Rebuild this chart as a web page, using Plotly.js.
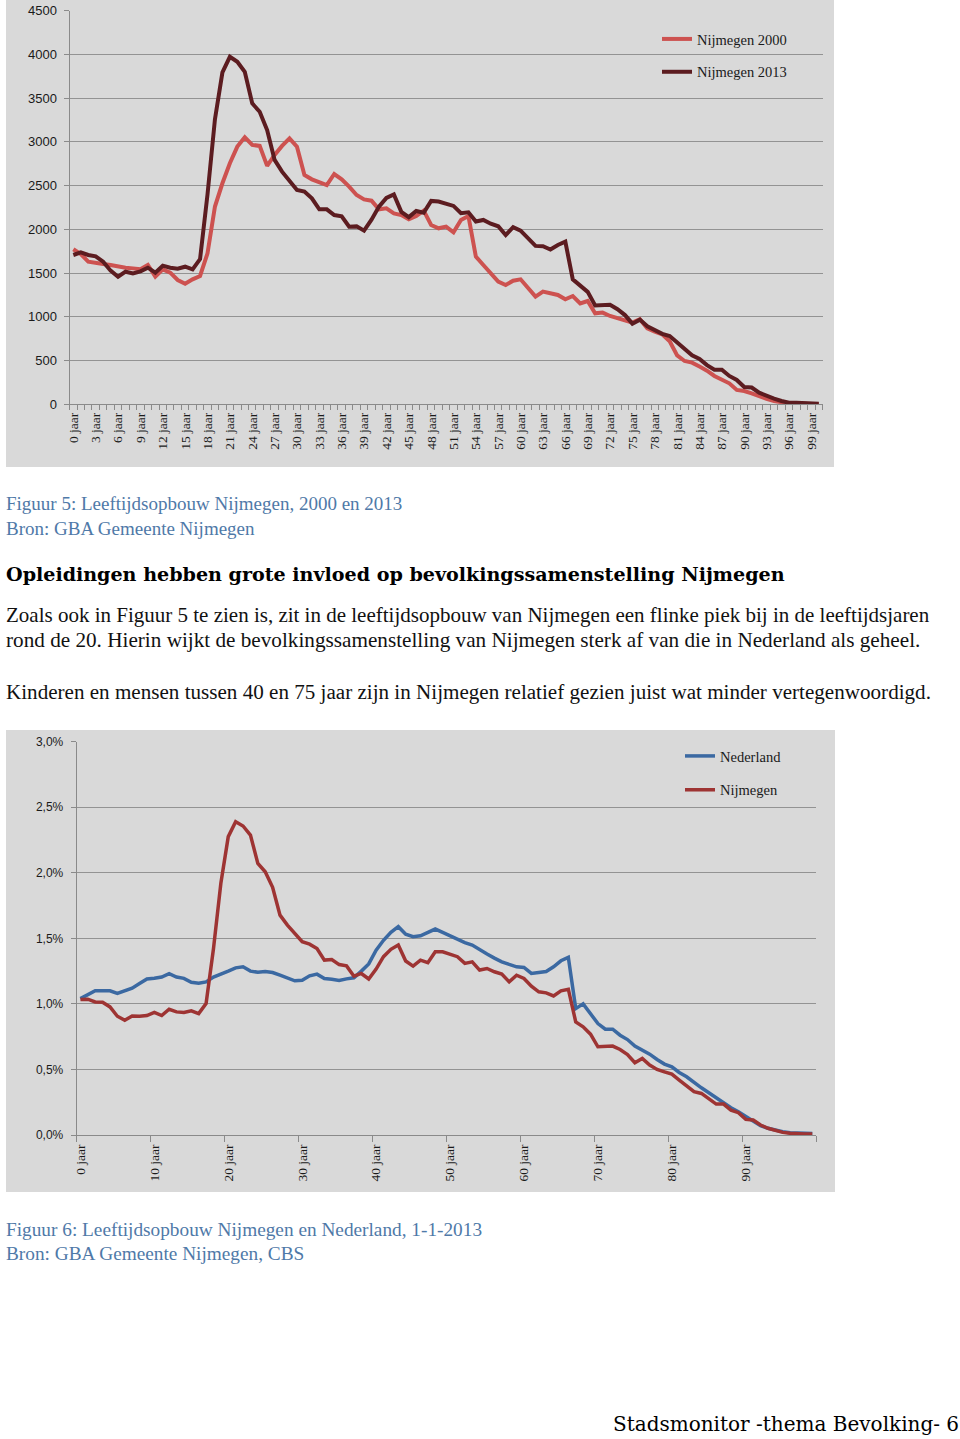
<!DOCTYPE html>
<html>
<head>
<meta charset="utf-8">
<script src="https://cdn.plot.ly/plotly-3.0.1.min.js"></script>
<style>
html,body{margin:0;padding:0;background:#fff;}
#chart{width:960px;height:1439px;}
</style>
</head>
<body>
<div id="chart"></div>
<script>
// ---------- Figuur 5 data ----------
const ages5 = [0,1,2,3,4,5,6,7,8,9,10,11,12,13,14,15,16,17,18,19,20,21,22,23,24,25,26,27,28,29,30,31,32,33,34,35,36,37,38,39,40,41,42,43,44,45,46,47,48,49,50,51,52,53,54,55,56,57,58,59,60,61,62,63,64,65,66,67,68,69,70,71,72,73,74,75,76,77,78,79,80,81,82,83,84,85,86,87,88,89,90,91,92,93,94,95,96,97,98,99,100];
const nijmegen2000 = [1772,1718,1631,1612,1604,1593,1573,1562,1554,1543,1593,1459,1543,1505,1421,1378,1429,1467,1726,2261,2527,2756,2946,3053,2966,2954,2726,2851,2954,3041,2945,2621,2572,2545,2507,2633,2572,2488,2393,2343,2328,2229,2240,2183,2164,2115,2153,2214,2050,2012,2031,1966,2107,2153,1688,1593,1497,1402,1364,1413,1429,1326,1231,1288,1269,1250,1200,1238,1154,1181,1040,1048,1010,983,956,933,972,869,831,800,720,560,495,476,431,385,324,278,240,164,152,126,88,61,38,19,11,8,4,4,0];
const nijmegen2013 = [1707,1737,1707,1692,1631,1528,1459,1516,1497,1520,1562,1505,1585,1562,1551,1573,1543,1660,2400,3260,3795,3973,3916,3802,3440,3345,3136,2794,2660,2546,2451,2432,2355,2229,2229,2164,2150,2030,2034,1985,2110,2260,2360,2400,2200,2140,2210,2190,2325,2318,2290,2268,2185,2195,2090,2108,2065,2035,1935,2025,1985,1890,1811,1808,1770,1822,1860,1428,1360,1285,1130,1130,1138,1087,1020,922,968,892,842,805,780,711,635,560,518,448,396,396,324,278,198,192,133,95,65,38,19,19,11,10,6];
const tickPos5 = [0,3,6,9,12,15,18,21,24,27,30,33,36,39,42,45,48,51,54,57,60,63,66,69,72,75,78,81,84,87,90,93,96,99];
const tickText5 = ['0 jaar','3 jaar','6 jaar','9 jaar','12 jaar','15 jaar','18 jaar','21 jaar','24 jaar','27 jaar','30 jaar','33 jaar','36 jaar','39 jaar','42 jaar','45 jaar','48 jaar','51 jaar','54 jaar','57 jaar','60 jaar','63 jaar','66 jaar','69 jaar','72 jaar','75 jaar','78 jaar','81 jaar','84 jaar','87 jaar','90 jaar','93 jaar','96 jaar','99 jaar'];
const yTicks5 = [0,500,1000,1500,2000,2500,3000,3500,4000,4500];

// ---------- Figuur 6 data (percent) ----------
const ages6 = [0,1,2,3,4,5,6,7,8,9,10,11,12,13,14,15,16,17,18,19,20,21,22,23,24,25,26,27,28,29,30,31,32,33,34,35,36,37,38,39,40,41,42,43,44,45,46,47,48,49,50,51,52,53,54,55,56,57,58,59,60,61,62,63,64,65,66,67,68,69,70,71,72,73,74,75,76,77,78,79,80,81,82,83,84,85,86,87,88,89,90,91,92,93,94,95,96,97,98,99];
const nederland = [1.04,1.07,1.10,1.10,1.10,1.08,1.10,1.12,1.155,1.19,1.195,1.205,1.23,1.205,1.195,1.165,1.158,1.168,1.205,1.225,1.25,1.275,1.283,1.25,1.242,1.247,1.239,1.219,1.199,1.176,1.181,1.214,1.227,1.193,1.188,1.178,1.191,1.199,1.25,1.305,1.41,1.485,1.546,1.589,1.531,1.513,1.52,1.546,1.571,1.546,1.52,1.495,1.467,1.449,1.411,1.38,1.349,1.321,1.301,1.283,1.278,1.232,1.24,1.247,1.283,1.329,1.355,0.964,1.0,0.926,0.85,0.807,0.807,0.761,0.728,0.678,0.647,0.617,0.576,0.541,0.52,0.477,0.444,0.398,0.36,0.322,0.284,0.246,0.208,0.178,0.14,0.107,0.071,0.051,0.036,0.025,0.018,0.015,0.012,0.012];
const nijmegen = [1.033,1.036,1.015,1.013,0.977,0.906,0.875,0.908,0.906,0.911,0.936,0.911,0.959,0.939,0.934,0.947,0.926,1.003,1.42,1.92,2.276,2.39,2.357,2.288,2.072,2.008,1.889,1.677,1.601,1.537,1.474,1.456,1.423,1.334,1.339,1.30,1.29,1.211,1.232,1.19,1.266,1.36,1.416,1.449,1.327,1.288,1.334,1.314,1.398,1.398,1.38,1.36,1.309,1.321,1.258,1.27,1.245,1.227,1.168,1.219,1.194,1.135,1.092,1.084,1.061,1.10,1.112,0.863,0.825,0.769,0.673,0.673,0.678,0.652,0.614,0.551,0.584,0.533,0.50,0.482,0.464,0.419,0.373,0.33,0.317,0.279,0.236,0.236,0.19,0.17,0.119,0.114,0.076,0.051,0.033,0.02,0.013,0.008,0.008,0.008];
const tickPos6 = [0,10,20,30,40,50,60,70,80,90];
const tickText6 = ['0 jaar','10 jaar','20 jaar','30 jaar','40 jaar','50 jaar','60 jaar','70 jaar','80 jaar','90 jaar'];
const yTicks6 = [0,0.5,1,1.5,2,2.5,3];
const yTickText6 = ['0,0%','0,5%','1,0%','1,5%','2,0%','2,5%','3,0%'];

// ---------- page geometry helpers ----------
const W = 960, H = 1439;
const px = v => v / W;
const py = v => 1 - v / H;

// category boundary tick marks
const bounds5 = ages5.map(a => a - 0.5).concat([ages5[ages5.length - 1] + 0.5]);
const bounds6 = [];
for (let i = 0; i <= ages6.length; i += 10) bounds6.push(i - 0.5);

const axisGray = '#8a8a8a';
const serif = 'Liberation Serif, Times New Roman, serif';
const sans = 'Liberation Sans, Arial, sans-serif';

const traces = [
  {x: ages5, y: nijmegen2000, name: 'Nijmegen 2000', type: 'scatter', mode: 'lines',
   line: {color: '#cd5250', width: 4}, xaxis: 'x', yaxis: 'y', legend: 'legend', legendgroup: 'a', hoverinfo: 'skip'},
  {x: ages5, y: nijmegen2013, name: 'Nijmegen 2013', type: 'scatter', mode: 'lines',
   line: {color: '#5c1c20', width: 4}, xaxis: 'x', yaxis: 'y', legend: 'legend', legendgroup: 'b', hoverinfo: 'skip'},
  {x: ages6, y: nederland, name: 'Nederland', type: 'scatter', mode: 'lines',
   line: {color: '#3b69a2', width: 3.5}, xaxis: 'x2', yaxis: 'y2', legend: 'legend2', legendgroup: 'c', hoverinfo: 'skip'},
  {x: ages6, y: nijmegen, name: 'Nijmegen', type: 'scatter', mode: 'lines',
   line: {color: '#9e3433', width: 3.5}, xaxis: 'x2', yaxis: 'y2', legend: 'legend2', legendgroup: 'd', hoverinfo: 'skip'}
];

const capBlue = '#4f79a8';
function txt(text, x, y, size, color, family, weight) {
  return {text: text, xref: 'paper', yref: 'paper', x: px(x), y: py(y), xanchor: 'left', yanchor: 'middle',
          showarrow: false, font: {size: size, color: color, family: family, weight: weight || 'normal'}};
}

const layout = {
  width: W, height: H,
  margin: {l: 0, r: 0, t: 0, b: 0},
  paper_bgcolor: '#ffffff',
  plot_bgcolor: 'rgba(0,0,0,0)',
  showlegend: true,
  shapes: [
    {type: 'rect', xref: 'paper', yref: 'paper', x0: px(6), x1: px(834), y0: py(467), y1: py(0),
     fillcolor: '#d9d9d9', line: {width: 0}, layer: 'below'},
    {type: 'rect', xref: 'paper', yref: 'paper', x0: px(6), x1: px(835), y0: py(1192), y1: py(730),
     fillcolor: '#d9d9d9', line: {width: 0}, layer: 'below'}
  ],
  xaxis: {
    domain: [px(69.6), px(822.5)], range: [-0.5, 100.5], anchor: 'y',
    tickmode: 'array', tickvals: tickPos5, ticktext: tickText5, tickangle: -90,
    ticks: '', showline: true, linecolor: axisGray, linewidth: 1, showgrid: false, zeroline: false,
    tickfont: {family: serif, size: 13.5, color: '#1a1a1a'}, ticklabelstandoff: 2,
    minor: {tickmode: 'array', tickvals: bounds5, ticks: 'outside', ticklen: 5, tickcolor: axisGray, tickwidth: 1, showgrid: false},
    fixedrange: true
  },
  yaxis: {
    domain: [py(404.3), py(10.7)], range: [0, 4500], anchor: 'x',
    tickmode: 'array', tickvals: yTicks5,
    showgrid: true, gridcolor: '#939393', gridwidth: 1, showline: true, linecolor: axisGray, linewidth: 1,
    ticks: 'outside', ticklen: 5, tickcolor: axisGray, zeroline: false,
    tickfont: {family: sans, size: 13, color: '#1a1a1a'}, ticklabelstandoff: 4,
    fixedrange: true
  },
  xaxis2: {
    domain: [px(76.7), px(816)], range: [-0.5, 99.5], anchor: 'y2',
    tickmode: 'array', tickvals: tickPos6, ticktext: tickText6, tickangle: -90,
    ticks: '', showline: true, linecolor: axisGray, linewidth: 1, showgrid: false, zeroline: false,
    tickfont: {family: serif, size: 13.5, color: '#1a1a1a'}, ticklabelstandoff: 3,
    minor: {tickmode: 'array', tickvals: bounds6, ticks: 'outside', ticklen: 6, tickcolor: axisGray, tickwidth: 1, showgrid: false},
    fixedrange: true
  },
  yaxis2: {
    domain: [py(1135), py(741.7)], range: [0, 3], anchor: 'x2',
    tickmode: 'array', tickvals: yTicks6, ticktext: yTickText6,
    showgrid: true, gridcolor: '#939393', gridwidth: 1, showline: true, linecolor: axisGray, linewidth: 1,
    ticks: 'outside', ticklen: 5, tickcolor: axisGray, zeroline: false,
    tickfont: {family: sans, size: 12, color: '#1a1a1a'}, ticklabelstandoff: 5,
    fixedrange: true
  },
  legend: {
    x: px(657), y: py(23), xanchor: 'left', yanchor: 'top',
    bgcolor: 'rgba(0,0,0,0)', borderwidth: 0, tracegroupgap: 11, traceorder: 'grouped',
    font: {family: serif, size: 14.5, color: '#1a1a1a'}, itemclick: false, itemdoubleclick: false
  },
  legend2: {
    x: px(680), y: py(740), xanchor: 'left', yanchor: 'top',
    bgcolor: 'rgba(0,0,0,0)', borderwidth: 0, tracegroupgap: 12, traceorder: 'grouped',
    font: {family: serif, size: 14.5, color: '#1a1a1a'}, itemclick: false, itemdoubleclick: false
  },
  annotations: [
    txt('Figuur 5: Leeftijdsopbouw Nijmegen, 2000 en 2013', 4, 504, 19, capBlue, serif),
    txt('Bron: GBA Gemeente Nijmegen', 4, 528, 19, capBlue, serif),
    txt('Opleidingen hebben grote invloed op bevolkingssamenstelling Nijmegen', 4, 574, 19.1, '#000000', 'DejaVu Serif, serif', 'bold'),
    txt('Zoals ook in Figuur 5 te zien is, zit in de leeftijdsopbouw van Nijmegen een flinke piek bij in de leeftijdsjaren', 4, 615, 21, '#111111', serif),
    txt('rond de 20. Hierin wijkt de bevolkingssamenstelling van Nijmegen sterk af van die in Nederland als geheel.', 4, 640, 21.2, '#111111', serif),
    txt('Kinderen en mensen tussen 40 en 75 jaar zijn in Nijmegen relatief gezien juist wat minder vertegenwoordigd.', 4, 692, 21.1, '#111111', serif),
    txt('Figuur 6: Leeftijdsopbouw Nijmegen en Nederland, 1-1-2013', 4, 1229, 19.3, capBlue, serif),
    txt('Bron: GBA Gemeente Nijmegen, CBS', 4, 1253, 19.3, capBlue, serif),
    txt('Stadsmonitor -thema Bevolking- 6', 611, 1424, 20, '#000000', 'DejaVu Serif, serif')
  ]
};

Plotly.newPlot('chart', traces, layout, {displayModeBar: false, staticPlot: true});
</script>
</body>
</html>
